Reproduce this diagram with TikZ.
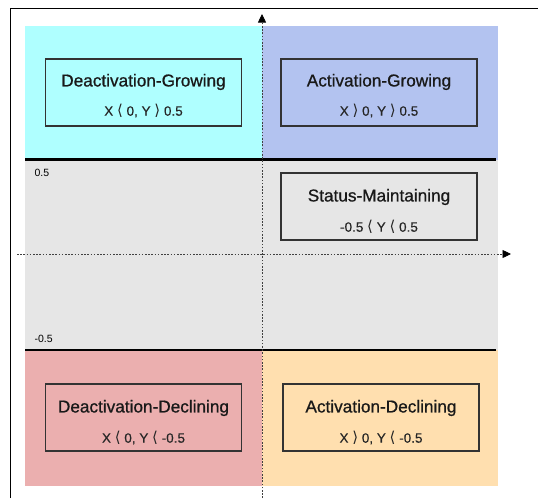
\documentclass[tikz,border=0pt]{standalone}
\usepackage{fontspec}
\setmainfont{Liberation Sans}
\newfontfamily\ttlfont[FakeBold=0.8]{Liberation Sans}
\newfontfamily\subfont[FakeBold=0.3]{Liberation Sans}
\newfontfamily\symf{DejaVu Sans}
\usetikzlibrary{arrows.meta}
\definecolor{cyanq}{HTML}{AFFFFF}
\definecolor{blueq}{HTML}{B3C3F0}
\definecolor{grayq}{HTML}{E6E6E6}
\definecolor{pinkq}{HTML}{EBAFAF}
\definecolor{peachq}{HTML}{FFDFAF}
\definecolor{boxline}{HTML}{333333}
\newcommand{\lt}{{\symf\fontsize{15}{15}\selectfont ⟨}}
\newcommand{\gt}{{\symf\fontsize{15}{15}\selectfont ⟩}}
\tikzset{
  statebox/.style={draw=boxline, line width=1.1pt, minimum width=196pt, minimum height=67pt, inner sep=0pt},
  ttl/.style={font=\ttlfont\fontsize{17.2}{20}\selectfont, text=black!90},
  sub/.style={font=\subfont\fontsize{13.5}{16}\selectfont, text=black!85},
  axis/.style={dash pattern=on 1.6pt off 1.6pt, line width=0.7pt, color=black!75},
  sep/.style={line width=2.2pt, black},
  tick/.style={font=\fontsize{10.5}{12}\selectfont, anchor=west}
}
\begin{document}
\begin{tikzpicture}[x=1pt,y=-1pt]
\useasboundingbox (0,0) rectangle (538,498);
\fill[white] (0,0) rectangle (538,498);
% outer frame
\draw[line width=1pt] (10,498) -- (10,8.5) -- (538,8.5);
% regions
\fill[cyanq] (25,26) rectangle (262,159.5);
\fill[blueq] (262,26) rectangle (498,159.5);
\fill[grayq] (25,159.5) rectangle (498,350);
\fill[pinkq] (25,350) rectangle (262,486);
\fill[peachq] (262,350) rectangle (498,486);
% separators
\coordinate (s1a) at (25,159.5); \coordinate (s1b) at (496,159.5);
\coordinate (s2a) at (25,350); \coordinate (s2b) at (496,350);
\draw[sep] (s1a) -- (s1b);
\draw[sep] (s2a) -- (s2b);
% axes
\coordinate (yb) at (262,498); \coordinate (yt) at (262,14);
\coordinate (xl) at (17,254); \coordinate (xr) at (511,254);
\draw[axis, -{Triangle[length=8.5pt,width=8pt,black]}] (yb) -- (yt);
\draw[axis, -{Triangle[length=8.5pt,width=8pt,black]}] (xl) -- (xr);
% tick labels
\node[tick] (t1) at (31,173) {0.5};
\node[tick] (t2) at (31,339) {-0.5};
% boxes
\node[statebox] (dg) at (143.5,92.5) {};
\node[ttl] at (143.5,82) {Deactivation-Growing};
\node[sub] at (143.5,111) {X \lt{} 0, Y \gt{} 0.5};
\node[statebox] (ag) at (379,92.5) {};
\node[ttl] at (379,82) {Activation-Growing};
\node[sub] at (379,111) {X \gt{} 0, Y \gt{} 0.5};
\node[statebox] (sm) at (379,206.5) {};
\node[ttl] at (379,197) {Status-Maintaining};
\node[sub] at (379,227) {-0.5 \lt{} Y \lt{} 0.5};
\node[statebox] (dd) at (143.5,417.5) {};
\node[ttl] at (143.5,408) {Deactivation-Declining};
\node[sub] at (143.5,438) {X \lt{} 0, Y \lt{} -0.5};
\node[statebox] (ad) at (381,417.5) {};
\node[ttl] at (381,408) {Activation-Declining};
\node[sub] at (381,438) {X \gt{} 0, Y \lt{} -0.5};
\end{tikzpicture}
\end{document}
